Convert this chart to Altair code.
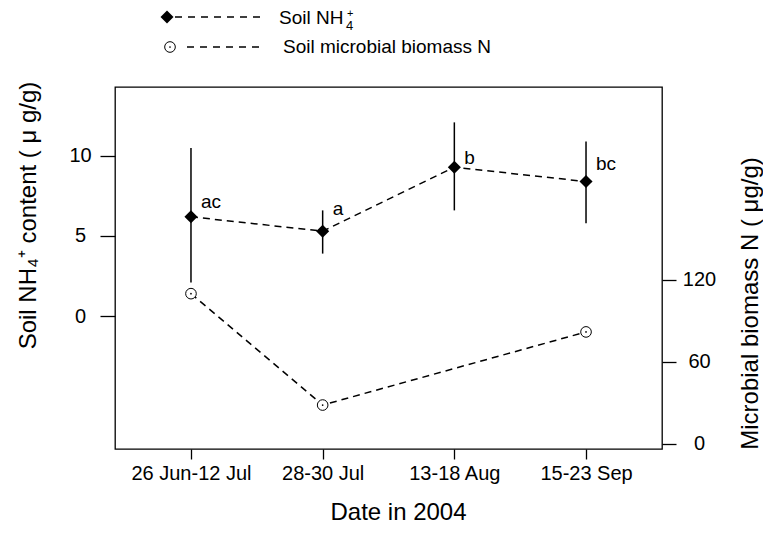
import altair as alt
import pandas as pd

# ---- data ----
dates = ["26 Jun-12 Jul", "28-30 Jul", "13-18 Aug", "15-23 Sep"]
nh4 = [6.2, 5.3, 9.3, 8.4]
nh4_low = [2.1, 3.9, 6.6, 5.8]
nh4_high = [10.5, 6.6, 12.1, 10.9]
letters = ["ac", "a", "b", "bc"]
letter_y = [7.1, 6.7, 9.9, 9.5]

mbn_dates = ["26 Jun-12 Jul", "28-30 Jul", "15-23 Sep"]
mbn = [110, 28.5, 82]

left_ticks = [0, 5, 10]
right_ticks = [0, 60, 120]

nh4_df = pd.DataFrame({"date": dates, "nh4": nh4, "lo": nh4_low, "hi": nh4_high,
                       "letter": letters, "ly": letter_y})
mbn_df = pd.DataFrame({"date": mbn_dates, "mbn": mbn})
one = pd.DataFrame({"k": [0]})

FONT = "Liberation Sans"
DASH = [7, 5]

x_enc = alt.X(
    "date:N", sort=dates,
    scale=alt.Scale(type="point", domain=dates, padding=0.577),
    axis=alt.Axis(title="Date in 2004", labelAngle=0, domain=False,
                  tickColor="black", tickSize=10, tickWidth=1.3,
                  labelFontSize=20, labelColor="black", labelFont=FONT, labelPadding=4,
                  titleFontSize=24, titleFont=FONT, titleFontWeight="normal",
                  titleColor="black", titleX=283, titleY=63,
                  titleBaseline="middle", titleAlign="center"),
)

left_scale = alt.Scale(domain=[-8.31, 14.31], nice=False, zero=False)
left_axis = alt.Axis(values=left_ticks, orient="left", grid=False, domain=False,
                     title="Soil NH\u2084\u207a content ( \u03bc g/g)",
                     tickColor="black", tickSize=15, tickWidth=1.3,
                     labelFontSize=20, labelColor="black", labelFont=FONT,
                     labelAlign="center", labelBaseline="middle", labelPadding=20,
                     titleFontSize=24, titleFont=FONT, titleFontWeight="normal",
                     titleColor="black", titleAngle=270, titleX=-87, titleY=128,
                     titleBaseline="middle", titleAlign="center")

right_scale = alt.Scale(domain=[-3.66, 261.2], nice=False, zero=False)
right_axis = alt.Axis(values=right_ticks, orient="right", grid=False, domain=False,
                      title="Microbial biomass N ( \u03bcg/g)",
                      tickColor="black", tickSize=14, tickWidth=1.3,
                      labelFontSize=20, labelColor="black", labelFont=FONT,
                      labelAlign="center", labelBaseline="middle", labelPadding=23,
                      titleFontSize=24, titleFont=FONT, titleFontWeight="normal",
                      titleColor="black", titleAngle=270, titleX=88, titleY=216,
                      titleBaseline="middle", titleAlign="center")

base_l = alt.Chart(nh4_df)

err = base_l.mark_rule(color="black", strokeWidth=1.5).encode(
    x=x_enc, y=alt.Y("lo:Q", scale=left_scale, axis=left_axis), y2="hi:Q")
line_l = base_l.mark_line(color="black", strokeWidth=1.5, strokeDash=DASH).encode(
    x=x_enc, y=alt.Y("nh4:Q", scale=left_scale, axis=left_axis))
pts_l = base_l.mark_point(shape="diamond", filled=True, color="black", size=170, opacity=1).encode(
    x=x_enc, y=alt.Y("nh4:Q", scale=left_scale, axis=left_axis))
txt_l = base_l.mark_text(align="left", baseline="middle", dx=10, fontSize=19,
                         font=FONT, color="black").encode(
    x=x_enc, y=alt.Y("ly:Q", scale=left_scale, axis=left_axis), text="letter:N")

left = alt.layer(err, line_l, pts_l, txt_l)

base_r = alt.Chart(mbn_df)
line_r = base_r.mark_line(color="black", strokeWidth=1.5, strokeDash=DASH).encode(
    x=x_enc, y=alt.Y("mbn:Q", scale=right_scale, axis=right_axis))
pts_r = base_r.mark_point(shape="circle", filled=True, fill="white", stroke="black",
                          strokeWidth=1, size=113, opacity=1).encode(
    x=x_enc, y=alt.Y("mbn:Q", scale=right_scale, axis=right_axis))
dot_r = base_r.mark_point(shape="circle", filled=True, color="black", size=3, opacity=1).encode(
    x=x_enc, y=alt.Y("mbn:Q", scale=right_scale, axis=right_axis))

right = alt.layer(line_r, pts_r, dot_r)

# ---- manual legend above the plot ----
lb = alt.Chart(one)
leg = alt.layer(
    lb.mark_rule(color="black", strokeWidth=1.5, strokeDash=[7, 6]).encode(
        x=alt.value(60), x2=alt.value(147), y=alt.value(-70)),
    lb.mark_point(shape="diamond", filled=True, color="black", size=170, opacity=1).encode(
        x=alt.value(52), y=alt.value(-70)),
    lb.mark_text(align="left", baseline="middle", fontSize=19, font=FONT, color="black").encode(
        x=alt.value(164), y=alt.value(-69), text=alt.value("Soil NH")),
    lb.mark_text(align="left", baseline="middle", fontSize=13, font=FONT, color="black").encode(
        x=alt.value(231), y=alt.value(-61.5), text=alt.value("4")),
    lb.mark_text(align="left", baseline="middle", fontSize=11, font=FONT, color="black").encode(
        x=alt.value(232), y=alt.value(-73.5), text=alt.value("+")),
    lb.mark_rule(color="black", strokeWidth=1.5, strokeDash=[7, 6]).encode(
        x=alt.value(72), x2=alt.value(147), y=alt.value(-40)),
    lb.mark_point(shape="circle", filled=True, fill="white", stroke="black",
                  strokeWidth=1, size=113, opacity=1).encode(
        x=alt.value(55), y=alt.value(-40)),
    lb.mark_point(shape="circle", filled=True, color="black", size=3, opacity=1).encode(
        x=alt.value(55), y=alt.value(-40)),
    lb.mark_text(align="left", baseline="middle", fontSize=19, font=FONT, color="black").encode(
        x=alt.value(168), y=alt.value(-40), text=alt.value("Soil microbial biomass N")),
)

chart = alt.layer(left, right, leg).resolve_scale(y="independent").properties(
    width=547, height=362,
    autosize=alt.AutoSizeParams(type="none"),
    padding={"left": 107, "top": 79, "right": 101, "bottom": 94},
).configure(font=FONT).configure_view(stroke="black", strokeWidth=1.3)

chart.save("out.html", embed_options={"renderer": "svg", "actions": False})
